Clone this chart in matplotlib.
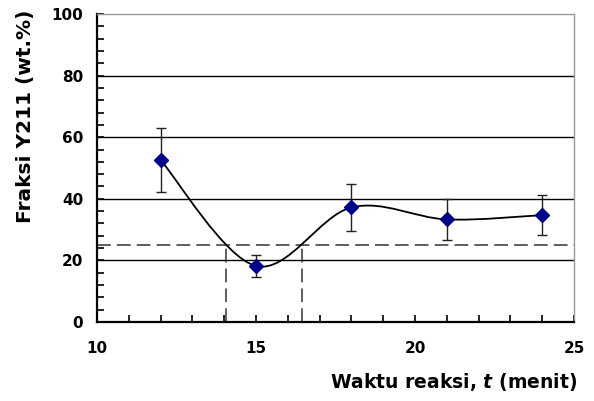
import numpy as np
import matplotlib.pyplot as plt
from matplotlib.path import Path
from matplotlib.patches import PathPatch

# data
waktu = [12, 15, 18, 21, 24]
fraksi = [52.6, 18.2, 37.2, 33.3, 34.7]
galat = [10.5, 3.5, 7.6, 6.7, 6.6]
batas = 25.0
t_potong = [14.05, 16.45]

fig = plt.figure(figsize=(5.94, 4.01), dpi=100)
ax = fig.add_axes([0.1633, 0.197, 0.803, 0.768])

# smoothed line like a spreadsheet "smoothed line" (cardinal bezier)
pts = np.column_stack([waktu, fraksi])
verts = [pts[0]]
codes = [Path.MOVETO]
n = len(pts)
for i in range(n - 1):
    p0 = pts[i - 1] if i > 0 else pts[i]
    p1 = pts[i]
    p2 = pts[i + 1]
    p3 = pts[i + 2] if i + 2 < n else pts[i + 1]
    c1 = p1 + (p2 - p0) / 6.0
    c2 = p2 - (p3 - p1) / 6.0
    verts += [c1, c2, p2]
    codes += [Path.CURVE4] * 3
ax.add_patch(PathPatch(Path(verts, codes), fill=False, edgecolor='black', lw=1.3, zorder=3))

# horizontal grid
for yy in [20, 40, 60, 80]:
    ax.axhline(yy, color='black', lw=1.0, zorder=1)

# dashed reference lines
ax.axhline(batas, color='#333333', lw=1.1, ls=(0, (9, 4)), zorder=2)
for tt in t_potong:
    ax.plot([tt, tt], [0, batas], color='#333333', lw=1.1, ls=(0, (9, 4)), zorder=2)

ax.errorbar(waktu, fraksi, yerr=galat, fmt='D', color='#00008B', ms=7,
            ecolor='#222222', elinewidth=1.0, capsize=3.5, capthick=1.0, zorder=4)

ax.set_xlim(10, 25)
ax.set_ylim(0, 100)
ax.set_xticks([10, 15, 20, 25])
ax.set_xticks(np.arange(10, 26, 1), minor=True)
ax.set_yticks([0, 20, 40, 60, 80, 100])
ax.set_yticks(np.arange(0, 101, 4), minor=True)
ax.tick_params(which='both', direction='in', length=5, width=1.2, color='black')
ax.tick_params(which='major', labelsize=11)
ax.tick_params(axis='x', which='major', pad=14)
ax.tick_params(axis='y', which='major', pad=10)
for lbl in ax.get_xticklabels() + ax.get_yticklabels():
    lbl.set_fontweight('bold')

for s in ['left', 'bottom']:
    ax.spines[s].set_color('black')
    ax.spines[s].set_linewidth(1.6)
for s in ['top', 'right']:
    ax.spines[s].set_color('#999999')
    ax.spines[s].set_linewidth(1.0)

plt.rcParams['mathtext.fontset'] = 'dejavusans'
fig.text(0.043, 0.71, 'Fraksi Y211 (wt.%)', rotation=90, ha='center', va='center',
         fontsize=14.5, fontweight='bold')
fig.text(0.972, 0.047, r'Waktu reaksi, $\mathbfit{t}$ (menit)', ha='right', va='center',
         fontsize=13.5, fontweight='bold')

fig.savefig('out.png', dpi=100)
